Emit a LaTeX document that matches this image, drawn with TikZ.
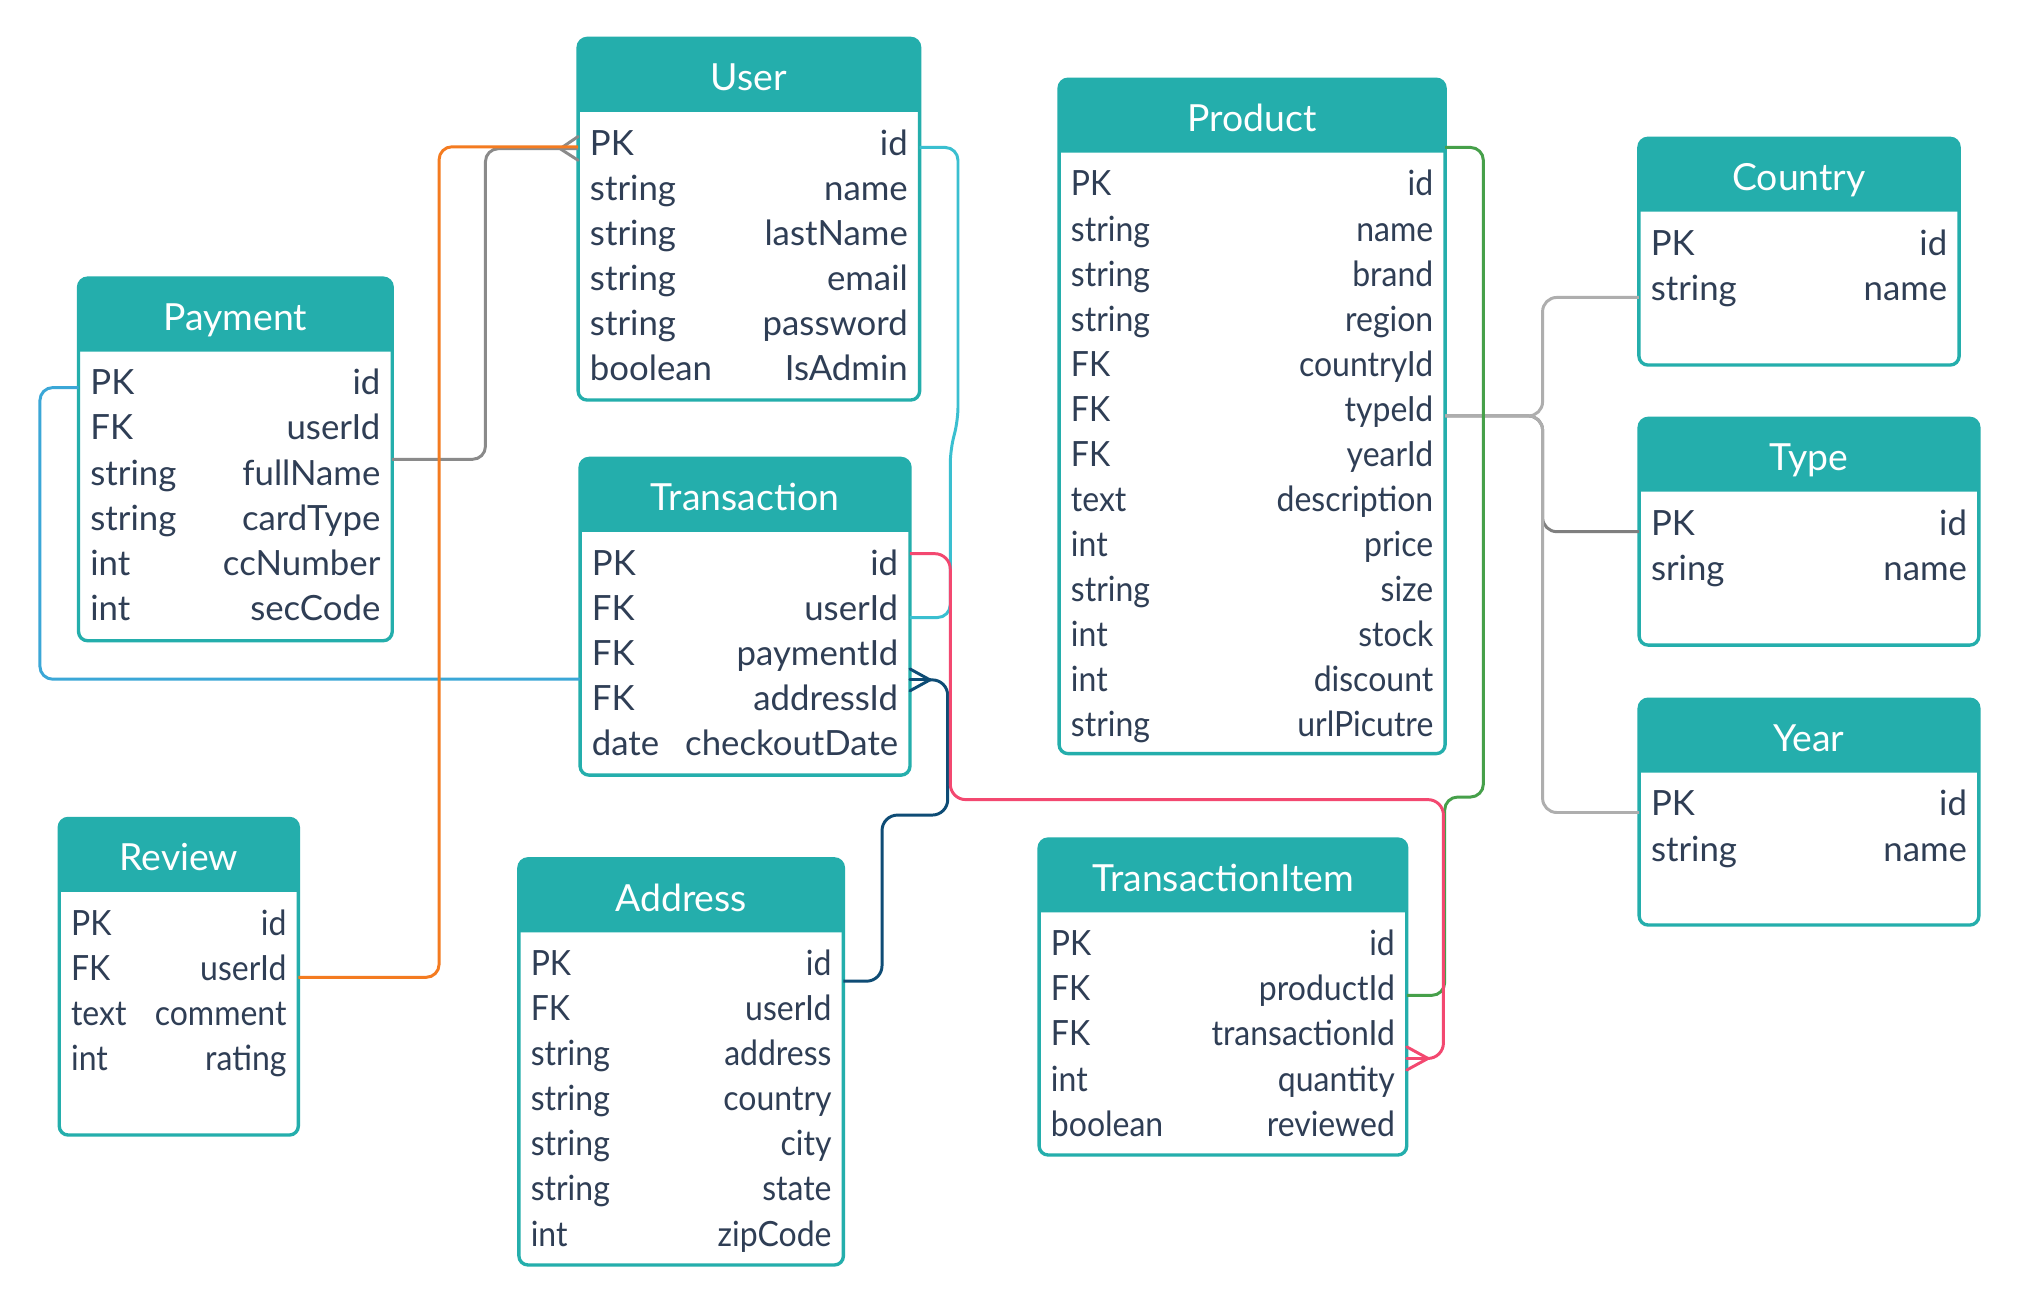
\documentclass[tikz,border=0pt]{standalone}
\usepackage{fontspec}
\setmainfont{Lato}
\newfontfamily\narrowlato[FakeStretch=0.92]{Lato}
\usetikzlibrary{calc}

\definecolor{erteal}{HTML}{24AEAC}
\definecolor{ertext}{HTML}{2F3E55}
\definecolor{cOrange}{HTML}{F47B20}
\definecolor{cGray}{HTML}{8A8A8A}
\definecolor{cCyan}{HTML}{3ABFD0}
\definecolor{cPink}{HTML}{F34870}
\definecolor{cNavy}{HTML}{0E4C75}
\definecolor{cBlue}{HTML}{3BA7D7}
\definecolor{cGreen}{HTML}{46A04A}
\definecolor{cLight}{HTML}{AEAEAE}
\definecolor{cDark}{HTML}{7F7F7F}

% field fonts: regular and slightly condensed
\newcommand\wideFields{\fontsize{27}{32}\selectfont}
\newcommand\narrowFields{\narrowlato\fontsize{27}{32}\selectfont}
\newcommand\fieldFont{\wideFields}

\tikzset{
  tbox/.style={draw=erteal, line width=2.6pt, fill=white, rounded corners=7pt,
    inner sep=0pt, outer sep=0pt},
  hdr/.style={fill=erteal},
  ttl/.style={anchor=base, text=white, font=\fontsize{29}{34}\selectfont, inner sep=0pt},
  fkey/.style={anchor=base west, text=ertext, font=\fieldFont, inner sep=0pt},
  fval/.style={anchor=base east, text=ertext, font=\fieldFont, inner sep=0pt},
  rel/.style={line width=2.3pt, rounded corners=10pt},
  foot/.style={line width=2.3pt, line cap=round},
}

% #1 name, #2 left, #3 top, #4 right, #5 bottom, #6 title, #7 type/field list
\newcommand\erTable[7]{%
  \node[tbox, anchor=north west, minimum width={(#4)-(#2)}, minimum height={(#5)-(#3)}]
    (#1) at (#2,#3) {};
  \fill[hdr] ($(#1.north west)+(0,57)$) [rounded corners=7pt] -- (#1.north west)
    -- (#1.north east) [sharp corners] -- ($(#1.north east)+(0,57)$) -- cycle;
  \node[ttl] (#1-t) at ($(#1.north)+(0,40.5)$) {#6};
  \foreach [count=\i] \k/\v in {#7} {
    \node[fkey] (#1-k\i) at ($(#1.north west)+(9,{90.7+35*(\i-1)})$) {\k};
    \node[fval] (#1-v\i) at ($(#1.north east)+(-9,{90.7+35*(\i-1)})$) {\v};
  }
}

\begin{document}
\begin{tikzpicture}[x=1pt, y=-1pt]
\fill[white] (0,0) rectangle (1568,1014);
\useasboundingbox (0,0) rectangle (1568,1014);

% tables
\erTable{user}{449}{29.8}{714.2}{310.7}{User}
  {PK/id, string/name, string/lastName, string/email, string/password, boolean/IsAdmin}
\erTable{payment}{61}{216}{304.6}{497.6}{Payment}
  {PK/id, FK/userId, string/fullName, string/cardType, int/ccNumber, int/secCode}
\erTable{transaction}{450.5}{356}{706.7}{602}{Transaction}
  {PK/id, FK/userId, FK/paymentId, FK/addressId, date/checkoutDate}
\erTable{country}{1272.8}{107.4}{1521.5}{283.5}{Country}
  {PK/id, string/name}
\erTable{type}{1273}{324.9}{1536.8}{501}{Type}
  {PK/id, sring/name}
\erTable{year}{1273}{543}{1536.8}{718.4}{Year}
  {PK/id, string/name}

\let\fieldFont\narrowFields
\erTable{review}{46}{635.6}{231.7}{881.5}{Review}
  {PK/id, FK/userId, text/comment, int/rating}
\erTable{address}{403}{667}{655}{982.4}{Address}
  {PK/id, FK/userId, string/address, string/country, string/city, string/state, int/zipCode}
\erTable{product}{822.5}{61.5}{1122.3}{585.3}{Product}
  {PK/id, string/name, string/brand, string/region, FK/countryId, FK/typeId, FK/yearId,
   text/description, int/price, string/size, int/stock, int/discount, string/urlPicutre}
\erTable{titem}{807}{651.6}{1092.5}{897}{TransactionItem}
  {PK/id, FK/productId, FK/transactionId, int/quantity, boolean/reviewed}

% connector end points on the table sides
\coordinate (rv-uid) at ($(review.north east)+(0,123.4)$);
\coordinate (us-in-o) at ($(user.north west)+(0,84.2)$);
\coordinate (us-in-g) at ($(user.north west)+(0,85.7)$);
\coordinate (pm-fn) at ($(payment.north east)+(0,140.7)$);
\coordinate (us-out) at ($(user.north east)+(0,84.7)$);
\coordinate (tr-uid) at ($(transaction.north east)+(0,123.6)$);
\coordinate (pm-pk) at ($(payment.north west)+(0,85)$);
\coordinate (tr-w) at ($(transaction.north west)+(0,171.5)$);
\coordinate (ad-pk) at ($(address.north east)+(0,95)$);
\coordinate (tr-aid) at ($(transaction.north east)+(0,172)$);
\coordinate (tr-pk) at ($(transaction.north east)+(0,74)$);
\coordinate (ti-tid) at ($(titem.north east)+(0,170.4)$);
\coordinate (pr-top) at ($(product.north east)+(0,53)$);
\coordinate (ti-pid) at ($(titem.north east)+(0,121.4)$);
\coordinate (pr-tid) at ($(product.north east)+(0,261.5)$);
\coordinate (co-nm) at ($(country.north west)+(0,123.6)$);
\coordinate (ty-pk) at ($(type.north west)+(0,88)$);
\coordinate (yr-pk) at ($(year.north west)+(0,88)$);

% crow's-foot tips
\coordinate (cf-g) at ($(us-in-g)+(-14,0)$);
\coordinate (cf-n) at ($(tr-aid)+(15.5,0)$);
\coordinate (cf-p) at ($(ti-tid)+(16.5,0)$);

% Product -> Country / Type / Year
\draw[rel, cDark, rounded corners=11pt] (pr-tid) -| (1198,380) |- (ty-pk);
\draw[rel, cLight, rounded corners=11pt] (pr-tid) -| (1198,280) |- (co-nm);
\draw[rel, cLight, rounded corners=11pt] (pr-tid) -| (1198,600) |- (yr-pk);

% Product -> TransactionItem
\draw[rel, cGreen] (pr-top) -| (1152,619) -| (1122,700) |- (ti-pid);

% Address -> Transaction
\draw[rel, cNavy, rounded corners=12pt] (ad-pk) -| (685,633) -| (736,560) |- (cf-n);
\draw[foot, cNavy] ($(tr-aid)+(0,-8.5)$) -- (cf-n) -- ($(tr-aid)+(0,8.5)$);
\draw[foot, cNavy] (tr-aid) -- (cf-n);

% User -> Transaction
\draw[rel, cCyan] (us-out) -| (744,326) -- (738,350) |- (tr-uid);

% Transaction -> TransactionItem
\draw[rel, cPink, rounded corners=12pt] (tr-pk) -| (738,621) -| (1121,790) |- (cf-p);
\draw[foot, cPink] ($(ti-tid)+(0,-9)$) -- (cf-p) -- ($(ti-tid)+(0,9)$);
\draw[foot, cPink] (ti-tid) -- (cf-p);

% Payment -> Transaction
\draw[rel, cBlue] (pm-pk) -| (31,400) |- (tr-w);

% Payment -> User
\draw[rel, cGray] (pm-fn) -| (377,300) |- (us-in-g);
\draw[foot, cGray] ($(us-in-g)+(0,-9.5)$) -- (cf-g) -- ($(us-in-g)+(0,9)$);

% Review -> User
\draw[rel, cOrange] (rv-uid) -| (341,400) |- (us-in-o);
\end{tikzpicture}
\end{document}
